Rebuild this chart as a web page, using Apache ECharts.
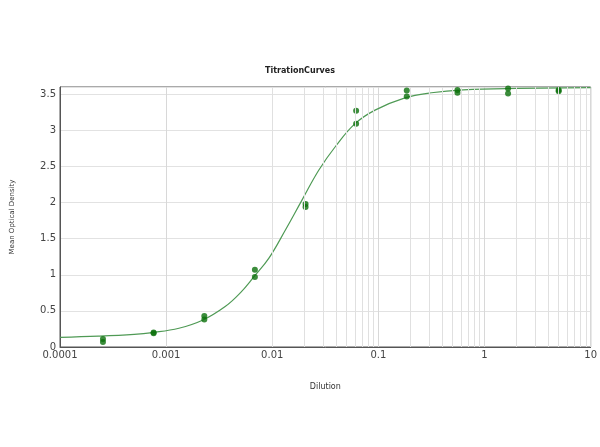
<!DOCTYPE html>
<html style="height: 100%">
<head>
	<meta charset="utf-8">
	<title>TitrationCurves</title>
	<script src="https://cdn.jsdelivr.net/npm/echarts@6/dist/echarts.min.js"></script>
</head>
<body style="height: 100%; margin: 0; background: #fff">
	<div id="main" style="width: 600px; height: 447px"></div>
	<script type="text/javascript">

		// measured replicates, 3-fold dilution series
		var dilutions = [0.000254, 0.000762, 0.00229, 0.00686, 0.0206, 0.0617, 0.185, 0.556, 1.667, 5];
		var repA = [0.11, 0.20, 0.43, 1.07, 1.98, 3.27, 3.55, 3.56, 3.58, 3.56];
		var repB = [0.07, 0.19, 0.38, 0.97, 1.94, 3.09, 3.47, 3.52, 3.51, 3.54];

		// fitted curve
		var curveX = [0.0001, 0.00023, 0.0005, 0.00074, 0.00132, 0.0022, 0.0036, 0.005, 0.0067, 0.0093, 0.0133, 0.019, 0.0275, 0.04, 0.06, 0.093, 0.178, 0.316, 0.63, 2, 10];
		var curveY = [0.134, 0.15, 0.175, 0.2, 0.26, 0.37, 0.56, 0.75, 0.97, 1.23, 1.62, 2.03, 2.45, 2.79, 3.09, 3.28, 3.45, 3.52, 3.56, 3.58, 3.59];

		// minor grid lines (2..9 in each decade)
		var minorGrid = [];
		for (var d = -4; d < 1; d++) {
			for (var m = 2; m <= 9; m++) {
				minorGrid.push(+(m * Math.pow(10, d)).toPrecision(3));
			}
		}

		var points = [];
		for (var i = 0; i < dilutions.length; i++) {
			points.push([dilutions[i], repA[i]]);
			points.push([dilutions[i], repB[i]]);
		}
		var curve = curveX.map(function(x, i){ return [x, curveY[i]]; });

		var font = 'DejaVu Sans';
		var myChart = echarts.init(document.getElementById('main'));

		myChart.setOption({
			animation: false,
			backgroundColor: '#fff',
			title: {
				text: 'TitrationCurves',
				left: 'center',
				top: 62,
				textStyle: { fontSize: 8, fontWeight: 'bold', color: '#222', fontFamily: font }
			},
			grid: {
				left: 60, right: 8, top: 87, bottom: 100,
				show: true, borderColor: '#555', borderWidth: 1
			},
			xAxis: {
				type: 'log',
				logBase: 10,
				min: 0.0001,
				max: 10,
				name: 'Dilution',
				nameLocation: 'middle',
				nameGap: 36,
				nameTextStyle: { fontSize: 8, color: '#333', fontFamily: font },
				axisLine: { lineStyle: { color: '#555' } },
				axisTick: { show: false },
				axisLabel: {
					color: '#444', fontSize: 10, fontFamily: font, margin: 3,
					formatter: function(v){ return String(+v.toPrecision(3)); }
				},
				splitLine: { show: true, lineStyle: { color: '#d8d8d8' } }
			},
			yAxis: {
				type: 'value',
				min: 0,
				max: 3.6,
				interval: 0.5,
				name: 'Mean Optical Density',
				nameLocation: 'middle',
				nameGap: 44,
				nameTextStyle: { fontSize: 7, color: '#333', fontFamily: font },
				axisLine: { show: true, lineStyle: { color: '#555' } },
				axisTick: { show: false },
				axisLabel: {
					color: '#444', fontSize: 10, fontFamily: font, margin: 4,
					formatter: function(v){ return v > 3.55 ? '' : String(v); }
				},
				splitLine: { show: true, lineStyle: { color: '#e2e2e2' } }
			},
			series: [
				{
					name: 'fit',
					type: 'line',
					data: curve,
					smooth: 0.4,
					symbol: 'none',
					lineStyle: { color: '#4f9a55', width: 1.2 },
					markLine: {
						silent: true,
						symbol: 'none',
						label: { show: false },
						lineStyle: { color: '#e0e0e0', type: 'solid', width: 1 },
						data: minorGrid.map(function(v){ return { xAxis: v }; })
					},
					z: 3
				},
				{
					name: 'data',
					type: 'scatter',
					data: points,
					symbol: 'circle',
					symbolSize: 6,
					itemStyle: { color: '#0b700b' },
					z: 4
				}
			]
		});
	</script>
</body>
</html>
